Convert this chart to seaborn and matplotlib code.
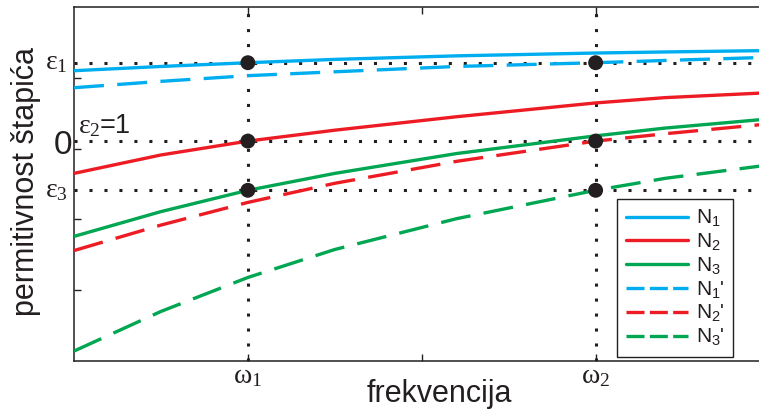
import matplotlib
matplotlib.use("Agg")
import matplotlib.pyplot as plt
import seaborn as sns
import numpy as np
import pandas as pd
from matplotlib.lines import Line2D

# ---------------- data ----------------
freq = [0.5, 0.75, 1.0, 1.25, 1.6, 2.0, 2.2, 2.5]
N1 = [4.10, 4.16, 4.213, 4.26, 4.31, 4.35, 4.365, 4.385]
N2 = [2.65, 2.91, 3.106, 3.26, 3.45, 3.645, 3.72, 3.79]
N3 = [1.76, 2.11, 2.411, 2.65, 2.93, 3.18, 3.29, 3.42]
N1p = [3.86, 3.95, 4.03, 4.085, 4.16, 4.213, 4.245, 4.29]
N2p = [1.56, 1.92, 2.24, 2.51, 2.82, 3.106, 3.21, 3.35]
N3p = [0.14, 0.70, 1.18, 1.575, 2.01, 2.411, 2.58, 2.77]
series_names = ["N1", "N2", "N3", "N1'", "N2'", "N3'"]
series_labels = [r"N$_1$", r"N$_2$", r"N$_3$", r"N$_1$'", r"N$_2$'", r"N$_3$'"]

eps_levels = [4.213, 3.106, 2.411]          # eps1, eps2 (=1 / "0"), eps3
omega = [1.0, 2.0]
dot_x = [1.0, 1.0, 1.0, 2.0, 2.0, 2.0]
dot_y = [4.213, 3.106, 2.411, 4.213, 3.106, 2.411]
x_ticks = [1.0, 1.5, 2.0, 2.5]
x_ticklabels = [r"$ω_1$", "", r"$ω_2$", ""]
y_ticks = [1, 2, 3, 4]

# ---------------- style ----------------
sns.set_theme(style="white")
plt.rcParams["font.family"] = ["Liberation Sans", "DejaVu Sans"]
plt.rcParams["mathtext.default"] = "regular"

blue = "#00AEEF"
red = "#ED1C24"
green = "#00A651"
ink = "#231F20"
colors = [blue, red, green, blue, red, green]
dashed = [False, False, False, True, True, True]
values = [N1, N2, N3, N1p, N2p, N3p]

fig = plt.figure(figsize=(7.59, 4.12), dpi=100)
W, H = 759, 412
ax_l, ax_r, ax_t, ax_b = 74, 769.5, 7, 361
ax = fig.add_axes([ax_l / W, (H - ax_b) / H, (ax_r - ax_l) / W, (ax_b - ax_t) / H])

lw = 2.4
for name, vals, c, d in zip(series_names, values, colors, dashed):
    df = pd.DataFrame({"f": freq, "v": vals})
    sns.lineplot(data=df, x="f", y="v", ax=ax, color=c, lw=lw,
                 linestyle=(0, (9, 4)) if d else "-", zorder=3,
                 solid_capstyle="butt", dash_capstyle="butt",
                 solid_joinstyle="round")

dot_style = dict(color=ink, lw=2.2, linestyle=(0, (1, 3.9)), zorder=2)
for e in eps_levels:
    ax.axhline(e, **dot_style)
for w in omega:
    ax.axvline(w, **dot_style)

sns.scatterplot(x=dot_x, y=dot_y, ax=ax, color=ink, s=115, edgecolor="none",
                zorder=5, legend=False)

ax.set_xlim(0.5, 2.5)
ax.set_ylim(0, 5)
ax.set_xticks(x_ticks)
ax.set_xticklabels(x_ticklabels, family="Liberation Serif", fontsize=20, color=ink)
ax.set_yticks(y_ticks)
ax.set_yticklabels([])
ax.tick_params(direction="in", length=5, width=1, top=True, bottom=True,
               left=True, right=True, colors=ink, pad=2)
for sp in ax.spines.values():
    sp.set_color(ink)
    sp.set_linewidth(1.1)
    sp.set_visible(True)

ax.set_xlabel("frekvencija", fontsize=22, color=ink)
ax.xaxis.set_label_coords(0.526, -0.05)
ax.xaxis.label.set_va("top")
ax.set_ylabel("permitivnost štapića", fontsize=22, color=ink)
ax.yaxis.set_label_coords(-0.047, 0.506)

# level labels
trans = ax.get_yaxis_transform()
ax.text(-0.009, eps_levels[0], r"$ε_1$", transform=trans, ha="right", va="center",
        family="Liberation Serif", fontsize=20, color=ink)
ax.text(-0.009, eps_levels[2], r"$ε_3$", transform=trans, ha="right", va="center",
        family="Liberation Serif", fontsize=20, color=ink)
ax.text(-0.003, 3.05, "0", transform=trans, ha="right", va="center",
        fontsize=24, color=ink)
ax.text(0.006, 3.22, r"$ε_2$", transform=trans, ha="left", va="baseline",
        family="Liberation Serif", fontsize=20, color=ink)
ax.text(0.037, 3.22, "=1", transform=trans, ha="left", va="baseline",
        fontsize=19.5, color=ink)

# legend
handles = [Line2D([0], [0], color=c, lw=lw,
                  linestyle=(0, (5.4, 1.6)) if d else "-")
           for c, d in zip(colors, dashed)]
leg = ax.legend(handles, series_labels, loc="lower right",
                bbox_to_anchor=(0.9475, 0.0113), fontsize=15, frameon=True,
                fancybox=False, framealpha=1, edgecolor=ink, handlelength=3.0,
                handletextpad=0.35, labelspacing=0.12, borderpad=0.42,
                borderaxespad=0)
leg.get_frame().set_linewidth(1.0)
for t in leg.get_texts():
    t.set_color(ink)

fig.savefig("out.png", dpi=100)
